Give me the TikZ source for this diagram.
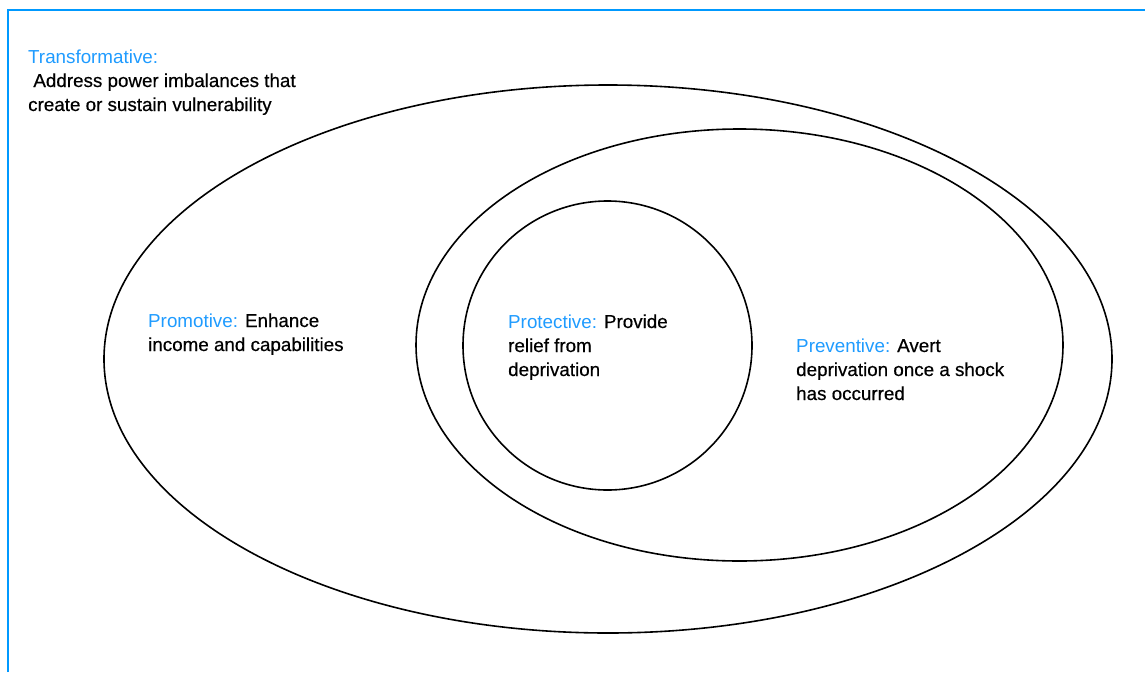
\documentclass[tikz,border=0pt]{standalone}
\usepackage{xcolor}
\usepackage{fontspec}
\setmainfont{Liberation Sans}
\newfontfamily\bodyfont{Liberation Sans}[FakeBold=0.5]
\usetikzlibrary{shapes,positioning}

\definecolor{framecol}{HTML}{0099FF}
\definecolor{headcol}{HTML}{1E9BFF}

\newcommand{\headtxt}[1]{{\normalfont\fontsize{18.8}{24}\selectfont\textcolor{headcol}{#1}}}

\begin{document}
\begin{tikzpicture}[x=1pt,y=-1pt,
  ring/.style={draw,ellipse,line width=1.6pt,inner sep=0pt},
  label/.style={anchor=base west,align=left,inner sep=0pt,
    font=\bodyfont\fontsize{18.8}{24}\selectfont}]
\useasboundingbox (0,0) rectangle (1145,672);

% Frame
\coordinate (f1) at (8,672);
\coordinate (f2) at (8,10);
\coordinate (f3) at (1145,10);
\draw[framecol,line width=2.4pt] (f1) -- (f2) -- (f3);

% Rings
\node[ring,minimum width=1008pt,minimum height=548pt] (transf) at (608,359) {};
\node[ring,minimum width=647pt,minimum height=432pt] (prev) at (739.5,345) {};
\node[ring,minimum width=289pt,minimum height=289pt] (prot) at (607.5,345.5) {};

% Labels (base = last line)
\node[label] (ltransf) at (28,111) {\headtxt{Transformative:}\\
  \hspace*{5.2pt}Address power imbalances that\\create or sustain vulnerability};
\node[label] (lpromo) at (148,351) {\headtxt{Promotive:} Enhance\\
  income and capabilities};
\node[label] (lprot) at (508,376) {\headtxt{Protective:} Provide\\
  relief from\\deprivation};
\node[label] (lprev) at (796,400) {\headtxt{Preventive:} Avert\\
  deprivation once a shock\\has occurred};
\end{tikzpicture}
\end{document}
